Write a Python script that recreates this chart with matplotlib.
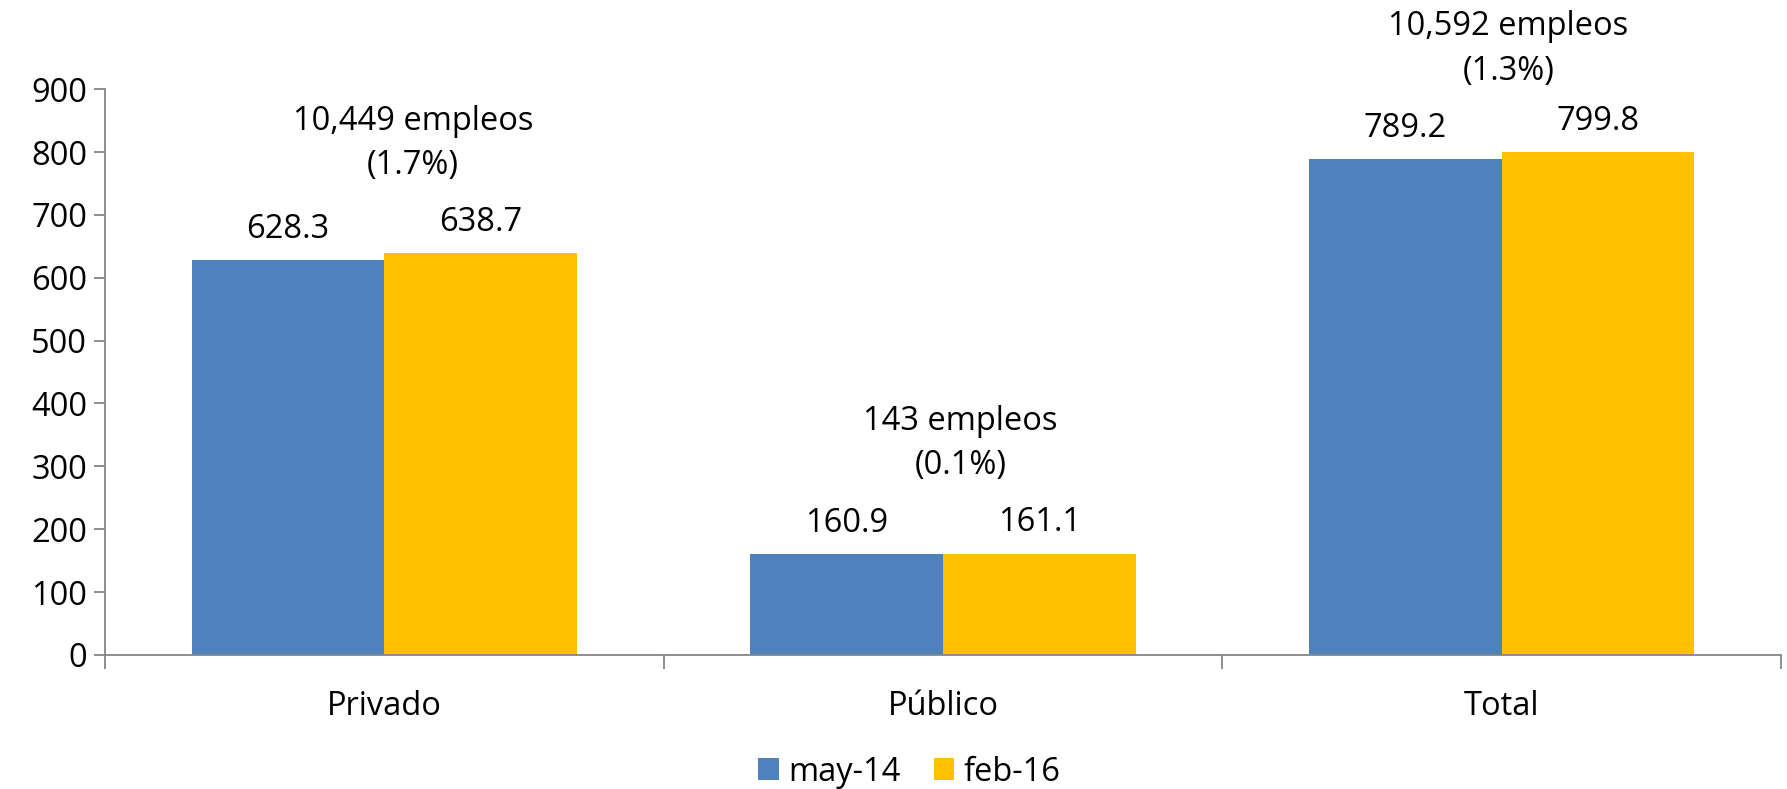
import numpy as np
import matplotlib.pyplot as plt

plt.rcParams['font.family'] = ['Open Sans', 'DejaVu Sans']

# datos (miles de empleos)
categorias = ["Privado", "Público", "Total"]
may14 = [628.3, 160.9, 789.2]
feb16 = [638.7, 161.1, 799.8]
etiquetas_may14 = ["628.3", "160.9", "789.2"]
etiquetas_feb16 = ["638.7", "161.1", "799.8"]
variacion_empleos = ["10,449 empleos", "143 empleos", "10,592 empleos"]
variacion_pct = ["(1.7%)", "(0.1%)", "(1.3%)"]
series = ["may-14", "feb-16"]

azul = "#4F81BD"
amarillo = "#FFC000"
gris = "#868686"
tam = 23.5

# desplazamiento (puntos) de los cuadros de texto de variacion
desp_x = [20.5, 12.5, 5]
desp_y = [57, 57, 52]

fig = plt.figure(figsize=(17.87, 7.89), dpi=100)
ax = fig.add_axes([0.0588, 0.170, 0.9378, 0.717])

x = np.arange(len(categorias))
ancho = 0.345
b1 = ax.bar(x - ancho / 2, may14, ancho, color=azul, label=series[0])
b2 = ax.bar(x + ancho / 2, feb16, ancho, color=amarillo, label=series[1])

# etiquetas de valor y variacion
for i in range(len(categorias)):
    ax.annotate(etiquetas_may14[i], (x[i] - ancho / 2, may14[i]), xytext=(0, 16),
                textcoords="offset points", ha="center", va="baseline", fontsize=tam)
    ax.annotate(etiquetas_feb16[i], (x[i] + ancho / 2, feb16[i]), xytext=(0, 16),
                textcoords="offset points", ha="center", va="baseline", fontsize=tam)
    tope = max(may14[i], feb16[i])
    ax.annotate(variacion_pct[i], (x[i], tope), xytext=(desp_x[i], desp_y[i]),
                textcoords="offset points", ha="center", va="baseline", fontsize=tam,
                annotation_clip=False)
    ax.annotate(variacion_empleos[i], (x[i], tope), xytext=(desp_x[i], desp_y[i] + 32),
                textcoords="offset points", ha="center", va="baseline", fontsize=tam,
                annotation_clip=False)

ax.set_xlim(-0.5, 2.5)
ax.set_ylim(0, 900)
ax.set_yticks(np.arange(0, 901, 100))
ax.set_xticks(x)
ax.set_xticklabels(categorias)
ax.set_xticks([-0.5, 0.5, 1.5, 2.5], minor=True)
ax.tick_params(axis="x", which="major", length=0, pad=25, labelsize=tam)
ax.tick_params(axis="x", which="minor", length=10, color=gris, width=1.3)
ax.tick_params(axis="y", length=8, color=gris, width=1.3, labelsize=tam, pad=5)

for lado in ["top", "right"]:
    ax.spines[lado].set_visible(False)
for lado in ["left", "bottom"]:
    ax.spines[lado].set_color(gris)
    ax.spines[lado].set_linewidth(1.3)

fig.legend(handles=[b1, b2], labels=series, loc="center", bbox_to_anchor=(0.509, 0.0215),
           ncol=2, frameon=False, fontsize=tam, handlelength=0.63, handleheight=0.63,
           handletextpad=0.3, columnspacing=1.0, borderpad=0, borderaxespad=0)

fig.savefig("out.png", dpi=100)
